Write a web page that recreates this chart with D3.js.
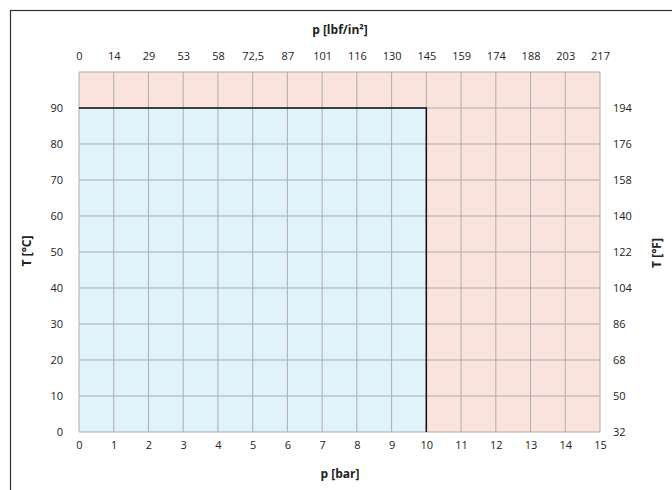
<!DOCTYPE html>
<html>
<head>
<meta charset="utf-8">
<script src="https://cdn.jsdelivr.net/npm/d3@7"></script>
<style>
  body { margin: 0; background: #fff; }
  text { font-family: "Open Sans", sans-serif; fill: #222; }
</style>
</head>
<body>
<div id="chart"></div>
<script>
var svgWidth = 672;
var svgHeight = 490;

// pressure axis (bar) and its lbf/in² labels on top
var barTicks = [0, 1, 2, 3, 4, 5, 6, 7, 8, 9, 10, 11, 12, 13, 14, 15];
var psiLabels = ["0", "14", "29", "53", "58", "72,5", "87", "101", "116", "130", "145", "159", "174", "188", "203", "217"];

// temperature axis (°C) and °F labels on the right
var celsiusTicks = [0, 10, 20, 30, 40, 50, 60, 70, 80, 90];
var fahrenheitLabels = ["32", "50", "68", "86", "104", "122", "140", "158", "176", "194"];

// allowed operating range
var maxPressure = 10;
var maxTemp = 90;

var margin = { top: 72, right: 72, bottom: 58, left: 79 };
var width = 600 - margin.left;
var height = 432 - margin.top;

var svg = d3.select("#chart")
  .append("svg")
  .attr("width", svgWidth)
  .attr("height", svgHeight);

// outer frame (right and bottom run off the page)
svg.append("rect")
  .attr("x", 10.5)
  .attr("y", 10.5)
  .attr("width", 700)
  .attr("height", 600)
  .attr("fill", "none")
  .attr("stroke", "#333")
  .attr("stroke-width", 1.2);

var chartGroup = svg.append("g")
  .attr("transform", `translate(${margin.left}, ${margin.top})`);

var x = d3.scaleLinear().domain([0, 15]).range([0, width]);
var y = d3.scaleLinear().domain([0, 100]).range([height, 0]);

// background: whole area pink, allowed range blue
chartGroup.append("rect")
  .attr("x", x(0))
  .attr("y", y(100))
  .attr("width", x(15) - x(0))
  .attr("height", y(0) - y(100))
  .attr("fill", "#f9e3dc");

chartGroup.append("rect")
  .attr("x", x(0))
  .attr("y", y(maxTemp))
  .attr("width", x(maxPressure) - x(0))
  .attr("height", y(0) - y(maxTemp))
  .attr("fill", "#e0f2fa");

// grid
chartGroup.selectAll(".vgrid")
  .data(barTicks)
  .enter()
  .append("line")
  .attr("x1", d => x(d))
  .attr("x2", d => x(d))
  .attr("y1", y(0))
  .attr("y2", y(100))
  .attr("stroke", "#adadad")
  .attr("stroke-width", 1);

chartGroup.selectAll(".hgrid")
  .data(celsiusTicks.concat([100]))
  .enter()
  .append("line")
  .attr("x1", x(0))
  .attr("x2", x(15))
  .attr("y1", d => y(d))
  .attr("y2", d => y(d))
  .attr("stroke", "#adadad")
  .attr("stroke-width", 1);

// limit line
chartGroup.append("path")
  .attr("d", `M${x(0)},${y(maxTemp)}H${x(maxPressure)}V${y(0)}`)
  .attr("fill", "none")
  .attr("stroke", "#111")
  .attr("stroke-width", 1.5);

// axes
var bottomAxis = d3.axisBottom(x).tickValues(barTicks).tickSize(0).tickPadding(9);
var topAxis = d3.axisTop(x).tickValues(barTicks).tickSize(0).tickPadding(12)
  .tickFormat((d, i) => psiLabels[i]);
var leftAxis = d3.axisLeft(y).tickValues(celsiusTicks).tickSize(0).tickPadding(16);
var rightAxis = d3.axisRight(y).tickValues(celsiusTicks).tickSize(0).tickPadding(13)
  .tickFormat((d, i) => fahrenheitLabels[i]);

function styleAxis(g) {
  g.select(".domain").remove();
  g.selectAll("text")
    .attr("font-family", "'Open Sans', sans-serif")
    .attr("font-size", "11px")
    .attr("fill", "#222");
}

chartGroup.append("g")
  .attr("transform", `translate(0, ${height})`)
  .call(bottomAxis)
  .call(styleAxis);

chartGroup.append("g")
  .call(topAxis)
  .call(styleAxis);

chartGroup.append("g")
  .call(leftAxis)
  .call(styleAxis);

chartGroup.append("g")
  .attr("transform", `translate(${width}, 0)`)
  .call(rightAxis)
  .call(styleAxis);

// axis titles
svg.append("text")
  .attr("x", 340)
  .attr("y", 34)
  .attr("text-anchor", "middle")
  .attr("font-size", "12px")
  .attr("font-weight", "bold")
  .text("p [lbf/in²]");

svg.append("text")
  .attr("x", 340)
  .attr("y", 478)
  .attr("text-anchor", "middle")
  .attr("font-size", "12px")
  .attr("font-weight", "bold")
  .text("p [bar]");

svg.append("text")
  .attr("transform", "translate(31, 251) rotate(-90)")
  .attr("text-anchor", "middle")
  .attr("font-size", "12px")
  .attr("font-weight", "bold")
  .text("T [°C]");

svg.append("text")
  .attr("transform", "translate(661, 253) rotate(-90)")
  .attr("text-anchor", "middle")
  .attr("font-size", "12px")
  .attr("font-weight", "bold")
  .text("T [°F]");
</script>
</body>
</html>
